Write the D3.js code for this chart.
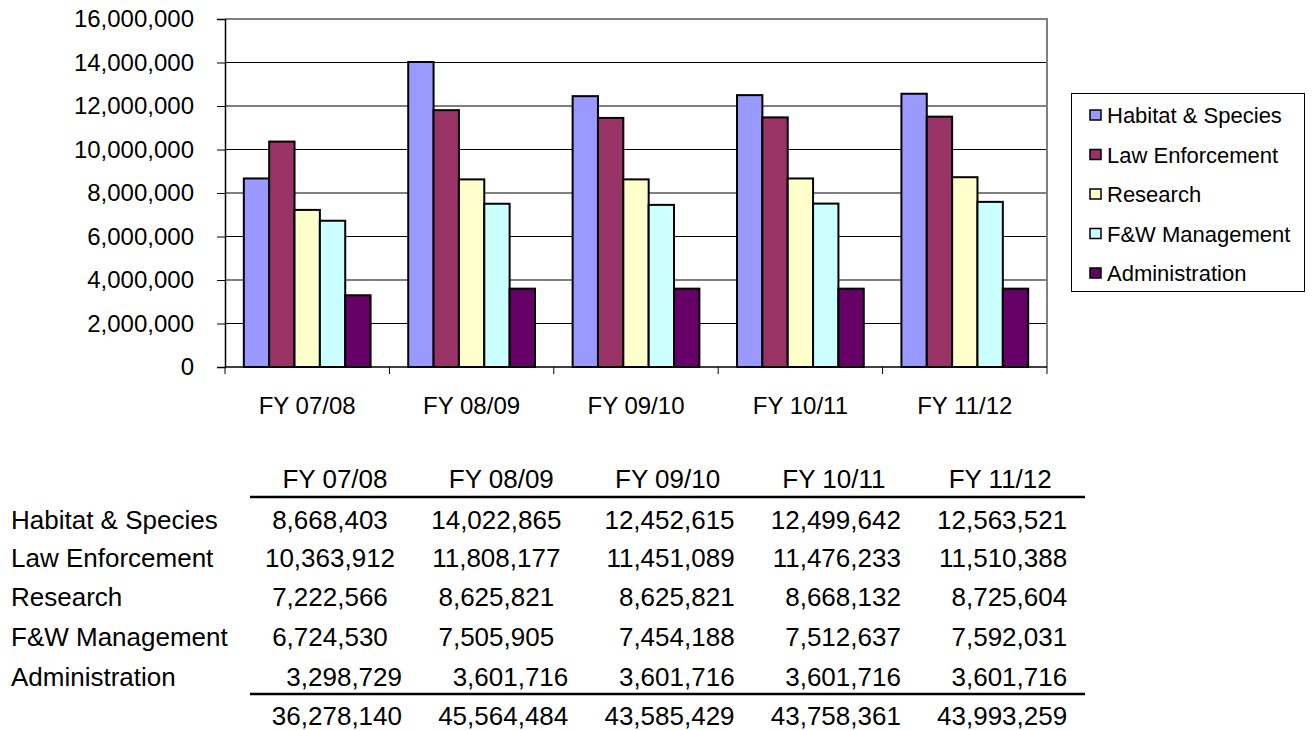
<!DOCTYPE html>
<html>
<head>
<meta charset="utf-8">
<script src="https://cdn.jsdelivr.net/npm/d3@7"></script>
<style>
  body { margin: 0; background: #fff; }
  text { font-family: "Liberation Sans", Arial, sans-serif; fill: #000; }
</style>
</head>
<body>
<div id="container"></div>
<script>
const years = ["FY 07/08", "FY 08/09", "FY 09/10", "FY 10/11", "FY 11/12"];
const programs = ["Habitat & Species", "Law Enforcement", "Research", "F&W Management", "Administration"];
const colors = ["#9999FF", "#993366", "#FFFFCC", "#CCFFFF", "#660066"];

const habitat = [8668403, 14022865, 12452615, 12499642, 12563521];
const lawEnforcement = [10363912, 11808177, 11451089, 11476233, 11510388];
const research = [7222566, 8625821, 8625821, 8668132, 8725604];
const fwManagement = [6724530, 7505905, 7454188, 7512637, 7592031];
const administration = [3298729, 3601716, 3601716, 3601716, 3601716];
const totals = [36278140, 45564484, 43585429, 43758361, 43993259];

const yTicks = [0, 2000000, 4000000, 6000000, 8000000, 10000000, 12000000, 14000000, 16000000];

const series = [habitat, lawEnforcement, research, fwManagement, administration];

const width = 1315, height = 730;
const plot = { left: 225, right: 1047, top: 19, bottom: 367 };

const svg = d3.select('#container')
    .append('svg')
    .attr('width', width)
    .attr('height', height);

const fmt = d3.format(",");

const x0 = d3.scaleBand()
    .domain(years)
    .range([plot.left, plot.right])
    .paddingInner(0.229)
    .paddingOuter(0.229 / 2);

const x1 = d3.scaleBand()
    .domain(d3.range(programs.length))
    .range([0, x0.bandwidth()]);

const y = d3.scaleLinear()
    .domain([0, 16000000])
    .range([plot.bottom, plot.top]);

// gridlines
svg.append('g')
    .selectAll('line')
    .data(yTicks.slice(1, -1))
    .enter()
    .append('line')
    .attr('x1', plot.left)
    .attr('x2', plot.right)
    .attr('y1', d => y(d))
    .attr('y2', d => y(d))
    .attr('stroke', '#000')
    .attr('stroke-width', 1);

// plot area border (top + right in gray)
svg.append('path')
    .attr('d', `M${plot.left},${y(16000000)}H${plot.right}V${plot.bottom}`)
    .attr('fill', 'none')
    .attr('stroke', '#808080')
    .attr('stroke-width', 2);

// bars
const groups = svg.append('g')
    .selectAll('g')
    .data(years)
    .enter()
    .append('g')
    .attr('transform', d => `translate(${x0(d)},0)`);

groups.selectAll('rect')
    .data((d, i) => series.map((s, k) => ({ k, v: s[i] })))
    .enter()
    .append('rect')
    .attr('x', d => x1(d.k))
    .attr('y', d => y(d.v))
    .attr('width', x1.bandwidth())
    .attr('height', d => y(0) - y(d.v))
    .attr('fill', d => colors[d.k])
    .attr('stroke', '#000')
    .attr('stroke-width', 2);

// y axis
const yAxis = svg.append('g')
    .attr('transform', `translate(${plot.left},0)`)
    .call(d3.axisLeft(y).tickValues(yTicks).tickFormat(fmt).tickSize(8).tickPadding(23));
yAxis.select('.domain').attr('stroke', '#000').attr('stroke-width', 1.5);
yAxis.selectAll('text').attr('font-size', 24).attr('font-family', '"Liberation Sans", Arial, sans-serif');
yAxis.selectAll('.tick line').attr('stroke', '#000');

// x axis with ticks at category boundaries
const xAxisG = svg.append('g').attr('transform', `translate(0,${plot.bottom})`);
xAxisG.append('line')
    .attr('x1', plot.left).attr('x2', plot.right)
    .attr('stroke', '#000').attr('stroke-width', 1.5);
const step = x0.step();
xAxisG.selectAll('.xt')
    .data(d3.range(years.length + 1))
    .enter()
    .append('line')
    .attr('class', 'xt')
    .attr('x1', i => plot.left + i * step)
    .attr('x2', i => plot.left + i * step)
    .attr('y1', 0).attr('y2', 7)
    .attr('stroke', '#000');
xAxisG.selectAll('text')
    .data(years)
    .enter()
    .append('text')
    .attr('x', d => x0(d) + x0.bandwidth() / 2)
    .attr('y', 47)
    .attr('text-anchor', 'middle')
    .attr('font-size', 24)
    .text(d => d);

// legend
const legend = svg.append('g');
legend.append('rect')
    .attr('x', 1071.5).attr('y', 93.5)
    .attr('width', 233).attr('height', 198)
    .attr('fill', '#fff')
    .attr('stroke', '#000')
    .attr('stroke-width', 1);
const items = legend.selectAll('.item')
    .data(programs)
    .enter()
    .append('g')
    .attr('transform', (d, i) => `translate(1090,${115 + i * 39.5})`);
items.append('rect')
    .attr('x', 0).attr('y', -5)
    .attr('width', 11).attr('height', 10)
    .attr('fill', (d, i) => colors[i])
    .attr('stroke', '#000')
    .attr('stroke-width', 1.5);
items.append('text')
    .attr('x', 17)
    .attr('y', 8)
    .attr('font-size', 22)
    .text(d => d);

// data table
const table = svg.append('g');
const colCenter = i => 335 + i * 166.3;
const headerBase = 488;
const rowBase = [529, 567, 606, 646, 686, 725];

table.selectAll('.hdr')
    .data(years)
    .enter()
    .append('text')
    .attr('x', (d, i) => colCenter(i))
    .attr('y', headerBase)
    .attr('text-anchor', 'middle')
    .attr('font-size', 26)
    .text(d => d);

table.selectAll('.rowlab')
    .data(programs)
    .enter()
    .append('text')
    .attr('x', 11)
    .attr('y', (d, i) => rowBase[i])
    .attr('font-size', 26)
    .text(d => d);

const rows = series.concat([totals]);
rows.forEach((vals, r) => {
    table.selectAll(`.r${r}`)
        .data(vals)
        .enter()
        .append('text')
        .attr('x', (v, c) => (c < 2 && r < 4) ? colCenter(c) - 5 : colCenter(c) + 67)
        .attr('y', rowBase[r])
        .attr('text-anchor', (v, c) => (c < 2 && r < 4) ? 'middle' : 'end')
        .attr('font-size', 26)
        .text(v => fmt(v));
});

[497, 694].forEach(ly => {
    table.append('line')
        .attr('x1', 250).attr('x2', 1085)
        .attr('y1', ly).attr('y2', ly)
        .attr('stroke', '#000')
        .attr('stroke-width', 2.5);
});
</script>
</body>
</html>
